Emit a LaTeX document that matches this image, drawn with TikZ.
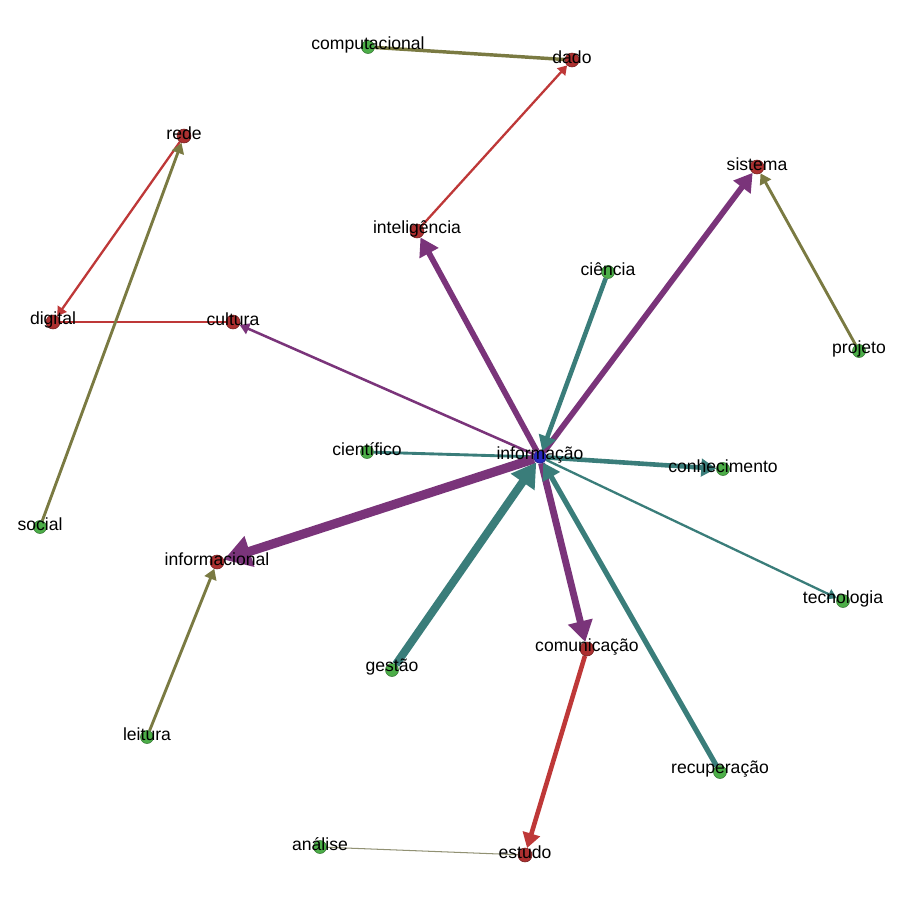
\documentclass[tikz,border=0pt]{standalone}
\usepackage{fontspec}
\setmainfont{Liberation Sans}
\usetikzlibrary{arrows.meta,backgrounds}
\definecolor{roxo}{RGB}{122,52,122}
\definecolor{petroleo}{RGB}{58,125,122}
\definecolor{tijolo}{RGB}{190,56,56}
\definecolor{oliva}{RGB}{122,122,66}
\definecolor{cinza}{RGB}{145,145,115}
\definecolor{nvermelho}{RGB}{172,48,48}
\definecolor{nverde}{RGB}{76,174,72}
\definecolor{nazul}{RGB}{40,40,190}

\begin{document}
\begin{tikzpicture}[x=0.2mm, y=-0.2mm,
  no/.style={circle, inner sep=0pt, minimum size=2.8mm, fill=#1, draw=#1!65!black, line width=0.3pt},
  rotulo/.style={inner sep=0pt, yshift=0.5mm, font=\fontsize{10}{11}\selectfont, text=black},
  traco/.style={line width=#1*0.23mm},
  seta/.style={traco=#1, -{Triangle[length=0.6mm 2.6, width=0.8mm 2.9]}}]
  \useasboundingbox (0,0) rectangle (900,900);

  \node[no=nazul, minimum size=2.5mm] (info) at (540,457) {};
  \node[no=nvermelho] (dado) at (572,60) {};
  \node[no=nverde, minimum size=2.6mm] (comput) at (368,47) {};
  \node[no=nvermelho] (rede) at (184,136) {};
  \node[no=nvermelho] (digital) at (53,322) {};
  \node[no=nvermelho] (cultura) at (233,322) {};
  \node[no=nverde, minimum size=2.6mm] (social) at (40,527) {};
  \node[no=nvermelho] (intelig) at (417,231) {};
  \node[no=nverde, minimum size=2.6mm] (ciencia) at (608,272) {};
  \node[no=nvermelho] (sistema) at (757,167) {};
  \node[no=nverde, minimum size=2.6mm] (projeto) at (859,351) {};
  \node[no=nverde, minimum size=2.6mm] (cientif) at (367,452) {};
  \node[no=nverde, minimum size=2.6mm] (conhec) at (723,469) {};
  \node[no=nvermelho] (informac) at (217,562) {};
  \node[no=nverde, minimum size=2.6mm] (tecnol) at (843,601) {};
  \node[no=nverde, minimum size=2.6mm] (gestao) at (392,670) {};
  \node[no=nvermelho] (comunic) at (587,649) {};
  \node[no=nverde, minimum size=2.6mm] (leitura) at (147,737) {};
  \node[no=nverde, minimum size=2.6mm] (recuper) at (720,772) {};
  \node[no=nverde, minimum size=2.6mm] (analise) at (320,847) {};
  \node[no=nvermelho] (estudo) at (525,855) {};

  \begin{scope}[on background layer]
    \draw[oliva, traco=3] (comput) -- (dado);
    \draw[tijolo, seta=2] (intelig) -- (dado);
    \draw[tijolo, seta=2] (rede) -- (digital);
    \draw[tijolo, traco=2.5] (cultura) -- (digital);
    \draw[oliva, seta=2.5] (social) -- (rede);
    \draw[roxo, seta=2.2] (info) -- (cultura);
    \draw[roxo, seta=5] (info) -- (intelig);
    \draw[roxo, seta=5] (info) -- (sistema);
    \draw[oliva, seta=2.5] (projeto) -- (sistema);
    \draw[petroleo, seta=4] (ciencia) -- (info);
    \draw[petroleo, traco=2.5] (cientif) -- (info);
    \draw[petroleo, seta=4] (info) -- (conhec);
    \draw[roxo, seta=8] (info) -- (informac);
    \draw[petroleo, seta=2] (info) -- (tecnol);
    \draw[petroleo, seta=7] (gestao) -- (info);
    \draw[roxo, seta=6] (info) -- (comunic);
    \draw[petroleo, seta=4.5] (recuper) -- (info);
    \draw[tijolo, seta=4] (comunic) -- (estudo);
    \draw[oliva, seta=2.5] (leitura) -- (informac);
    \draw[cinza, traco=0.9] (analise) -- (estudo);
  \end{scope}

  \node[rotulo] (info-r) at (info) {informação};
  \node[rotulo] (dado-r) at (dado) {dado};
  \node[rotulo] (comput-r) at (comput) {computacional};
  \node[rotulo] (rede-r) at (rede) {rede};
  \node[rotulo] (digital-r) at (digital) {digital};
  \node[rotulo] (cultura-r) at (cultura) {cultura};
  \node[rotulo] (social-r) at (social) {social};
  \node[rotulo] (intelig-r) at (intelig) {inteligência};
  \node[rotulo] (ciencia-r) at (ciencia) {ciência};
  \node[rotulo] (sistema-r) at (sistema) {sistema};
  \node[rotulo] (projeto-r) at (projeto) {projeto};
  \node[rotulo] (cientif-r) at (cientif) {científico};
  \node[rotulo] (conhec-r) at (conhec) {conhecimento};
  \node[rotulo] (informac-r) at (informac) {informacional};
  \node[rotulo] (tecnol-r) at (tecnol) {tecnologia};
  \node[rotulo] (gestao-r) at (gestao) {gestão};
  \node[rotulo] (comunic-r) at (comunic) {comunicação};
  \node[rotulo] (leitura-r) at (leitura) {leitura};
  \node[rotulo] (recuper-r) at (recuper) {recuperação};
  \node[rotulo] (analise-r) at (analise) {análise};
  \node[rotulo] (estudo-r) at (estudo) {estudo};
\end{tikzpicture}
\end{document}
